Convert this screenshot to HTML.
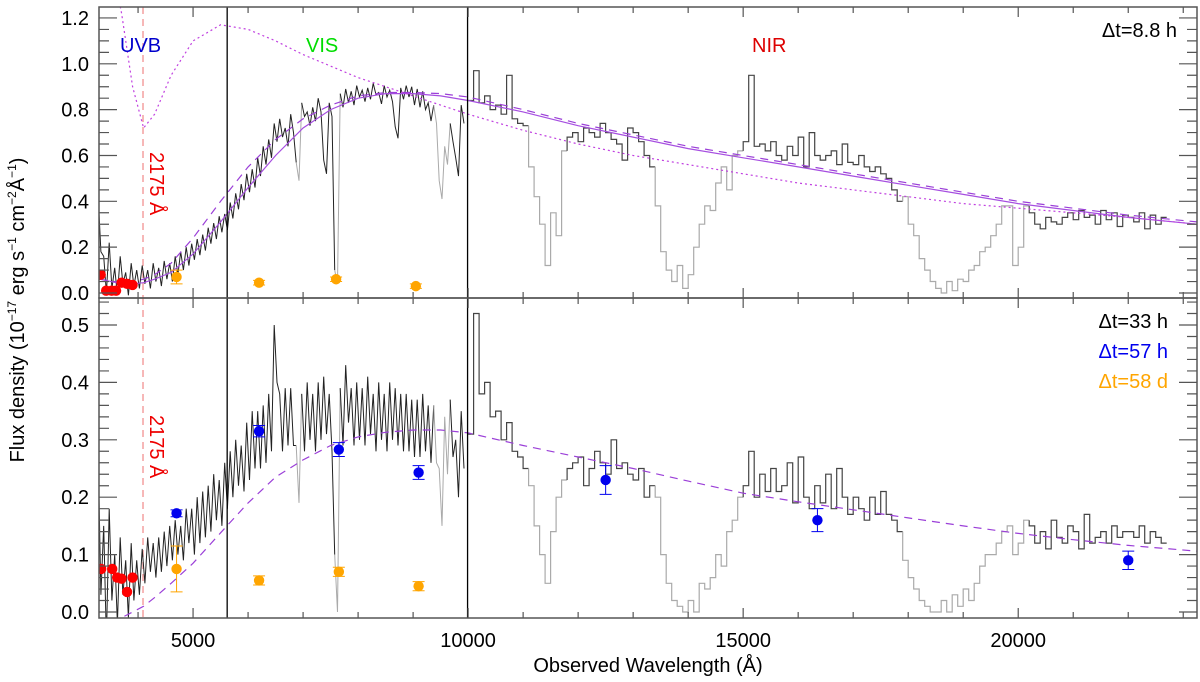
<!DOCTYPE html>
<html><head><meta charset="utf-8"><style>
body{margin:0;background:#fff}
svg{display:block;font-family:"Liberation Sans",sans-serif}
</style></head><body>
<svg id="chart" width="1200" height="682" viewBox="0 0 1200 682" xmlns="http://www.w3.org/2000/svg"></svg>
<script>
// ---- data ----
const visWaveStart = 3300, visStep = 100;
const topVis = [0.3,0.08,0.12,0.05,0.1,0.04,0.08,
0.06,0.08,0.06,0.09,0.07,0.1,0.09,0.12,0.14,0.16,
0.18,0.2,0.22,0.25,0.27,0.3,0.31,0.36,0.4,0.44,
0.48,0.5,0.55,0.6,0.63,0.7,0.72,0.68,0.74,0.53,
0.8,0.76,0.78,0.82,0.55,0.8,0.07,0.84,0.86,0.85,
0.88,0.86,0.87,0.89,0.85,0.88,0.86,0.7,0.87,0.88,
0.86,0.85,0.84,0.79,0.78,0.45,0.6,0.7,0.55,0.78];
const topVisScat = [0.12,0.08,0.1,0.06,0.06,0.05,0.05,
0.04,0.04,0.04,0.04,0.04,0.04,0.04,0.04,0.04,0.04,
0.035,0.035,0.035,0.035,0.035,0.035,0.035,0.035,0.035,0.035,
0.04,0.04,0.04,0.04,0.04,0.04,0.04,0.04,0.04,0.04,
0.03,0.03,0.03,0.03,0.03,0.03,0.03,0.03,0.03,0.03,
0.025,0.025,0.025,0.025,0.025,0.025,0.025,0.025,0.025,0.025,
0.04,0.04,0.04,0.04,0.04,0.04,0.04,0.04,0.04,0.04];
const botVis = [0.15,0.05,0.1,0.04,0.08,0.04,0.07,
0.06,0.08,0.1,0.09,0.1,0.11,0.12,0.13,0.12,0.15,
0.14,0.16,0.17,0.18,0.2,0.19,0.22,0.24,0.26,0.25,
0.28,0.3,0.3,0.31,0.33,0.45,0.33,0.34,0.34,0.24,
0.33,0.35,0.33,0.35,0.36,0.33,0.05,0.34,0.38,0.34,
0.35,0.34,0.36,0.33,0.35,0.33,0.35,0.34,0.33,0.33,
0.32,0.32,0.33,0.31,0.31,0.2,0.29,0.32,0.25,0.3];
const botVisScat = [0.12,0.1,0.08,0.06,0.05,0.05,0.05,
0.03,0.03,0.03,0.03,0.03,0.03,0.03,0.03,0.03,0.03,
0.04,0.04,0.04,0.04,0.04,0.04,0.04,0.04,0.04,0.04,
0.05,0.05,0.05,0.05,0.05,0.05,0.05,0.05,0.05,0.05,
0.05,0.05,0.05,0.05,0.05,0.05,0.05,0.05,0.05,0.05,
0.05,0.05,0.05,0.05,0.05,0.05,0.05,0.05,0.05,0.05,
0.05,0.05,0.05,0.05,0.05,0.05,0.05,0.05,0.05,0.05];
const nirWaveStart = 10000, nirStep = 100;
const topNir = [0.84,0.97,0.83,0.86,0.8,0.82,0.78,0.95,0.76,0.74,
0.73,0.55,0.42,0.3,0.12,0.35,0.25,0.62,0.68,0.7,
0.66,0.72,0.7,0.68,0.74,0.7,0.67,0.65,0.58,0.72,
0.7,0.66,0.6,0.55,0.38,0.18,0.1,0.05,0.12,0.02,
0.08,0.2,0.3,0.38,0.36,0.48,0.55,0.45,0.6,0.62,
0.66,0.95,0.64,0.65,0.62,0.66,0.6,0.58,0.64,0.6,
0.68,0.55,0.7,0.6,0.58,0.6,0.62,0.56,0.65,0.57,
0.56,0.6,0.55,0.53,0.55,0.52,0.5,0.45,0.4,0.42,
0.3,0.25,0.15,0.1,0.05,0.02,0.0,0.05,0.01,0.06,
0.05,0.1,0.12,0.18,0.2,0.25,0.3,0.38,0.38,0.12,
0.2,0.38,0.35,0.3,0.28,0.33,0.31,0.3,0.33,0.35,
0.32,0.36,0.33,0.34,0.3,0.36,0.32,0.35,0.29,0.34,
0.33,0.31,0.35,0.28,0.34,0.3,0.33];
const botNir = [0.31,0.52,0.38,0.4,0.34,0.35,0.3,0.33,0.28,0.27,
0.25,0.22,0.15,0.1,0.05,0.14,0.2,0.23,0.25,0.26,
0.27,0.22,0.25,0.28,0.26,0.24,0.3,0.25,0.26,0.24,
0.23,0.25,0.2,0.22,0.2,0.1,0.05,0.02,0.01,0.0,
0.02,0.0,0.05,0.04,0.06,0.1,0.08,0.14,0.16,0.2,
0.22,0.28,0.2,0.24,0.21,0.25,0.21,0.22,0.26,0.19,
0.27,0.2,0.18,0.22,0.19,0.24,0.18,0.25,0.2,0.17,
0.2,0.18,0.16,0.2,0.17,0.21,0.17,0.16,0.14,0.09,
0.06,0.04,0.02,0.01,0.0,0.0,0.02,0.0,0.03,0.01,
0.04,0.02,0.05,0.08,0.1,0.1,0.12,0.14,0.15,0.1,
0.12,0.16,0.15,0.12,0.14,0.11,0.16,0.13,0.12,0.15,
0.14,0.11,0.17,0.12,0.13,0.14,0.12,0.15,0.13,0.14,
0.14,0.13,0.15,0.12,0.14,0.13,0.12];
const telluric = [[6850,6950],[7550,7700],[9350,9700],[11050,11750],[13350,14950],[17850,20150]];
const modelWave = [3300,3700,3900,4100,4300,4600,5000,5500,6000,6500,7000,7500,8000,8500,9000,9500,10000,11000,12000,13000,14000,15000,16000,17000,18000,19000,20000,21000,22000,23250];
const topSolid = [0.06,0.04,0.04,0.045,0.06,0.09,0.17,0.31,0.46,0.6,0.72,0.8,0.85,0.87,0.87,0.86,0.84,0.79,0.73,0.68,0.63,0.59,0.55,0.51,0.47,0.43,0.39,0.36,0.33,0.3];
const topDashed = [0.06,0.045,0.05,0.06,0.08,0.13,0.24,0.4,0.55,0.67,0.76,0.82,0.86,0.875,0.875,0.87,0.855,0.8,0.74,0.69,0.64,0.6,0.56,0.52,0.48,0.44,0.4,0.37,0.34,0.31];
const topDotted = [1.7,1.22,0.9,0.72,0.78,0.95,1.1,1.17,1.15,1.1,1.04,0.99,0.94,0.9,0.86,0.82,0.78,0.71,0.65,0.6,0.56,0.52,0.48,0.45,0.42,0.39,0.37,0.35,0.33,0.3];
const botDashed = [-0.03,-0.01,0.0,0.01,0.025,0.05,0.085,0.138,0.19,0.235,0.265,0.29,0.305,0.313,0.317,0.317,0.312,0.29,0.27,0.25,0.228,0.207,0.192,0.178,0.164,0.15,0.137,0.126,0.116,0.106];
const topRedW = [3320,3420,3520,3600,3700,3800,3900];
const topRedF = [0.08,0.01,0.01,0.01,0.045,0.04,0.035];
const topOrW = [4700,6200,7600,9050];
const topOrF = [0.07,0.045,0.06,0.03];
const topOrE = [0.03,0.01,0.01,0.01];
const botRedW = [3330,3530,3620,3700,3800,3900];
const botRedF = [0.075,0.075,0.06,0.058,0.035,0.06];
const botBlueW = [4700,6200,7650,9100,12500,16350,22000];
const botBlueF = [0.172,0.315,0.283,0.243,0.23,0.16,0.09];
const botBlueE = [0.006,0.01,0.012,0.012,0.025,0.02,0.016];
const botOrW = [4700,6200,7650,9100];
const botOrF = [0.075,0.055,0.07,0.045];
const botOrE = [0.04,0.008,0.008,0.008];
const xTicks = [5000,10000,15000,20000];
const topYTicks = ["0.0","0.2","0.4","0.6","0.8","1.0","1.2"];
const botYTicks = ["0.0","0.1","0.2","0.3","0.4","0.5"];

// ---- scales ----
const L=99,R=1197;
const W0=3290,W1=23250;
const xs=w=>L+(w-W0)*(R-L)/(W1-W0);
const topP={t:7,b:298,y0:293,k:229.2};
const botP={t:298,b:618,y0:612,k:574};
const ysT=v=>topP.y0-v*topP.k;
const ysB=v=>botP.y0-v*botP.k;
const svg=document.getElementById('chart');
const NS='http://www.w3.org/2000/svg';
function mk(tag,attrs,parent){const e=document.createElementNS(NS,tag);for(const k in attrs)e.setAttribute(k,attrs[k]);(parent||svg).appendChild(e);return e;}
function isTell(w){return telluric.some(r=>w>=r[0]&&w<r[1]);}

function drawPanel(P,ys,name,vis,scat,nir,clipId){
  const g=mk('g',{'clip-path':'url(#'+clipId+')'});
  
  
  let seg=[],segT=null;
  function flush(color,w){if(seg.length>1){const p=mk('polyline',{points:seg.join(' '),fill:'none',stroke:color,'stroke-width':w},g);}}
  for(let i=0;i<vis.length;i++){const w=visWaveStart+i*visStep;const t=isTell(w);
    const pa=xs(w-25).toFixed(1)+','+ys(vis[i]+scat[i]).toFixed(1);
    const pb=xs(w+25).toFixed(1)+','+ys(vis[i]-scat[i]).toFixed(1);
    if(segT!==null&&t!==segT){seg.push(pa);flush(segT?'#aaa':'#222',1);seg=[seg[seg.length-1]];}
    segT=t;seg.push(pa);seg.push(pb);}
  flush(segT?'#aaa':'#222',1);
  seg=[];segT=null;
  for(let i=0;i<nir.length;i++){const w=nirWaveStart+i*nirStep;const t=isTell(w);
    if(segT!==null&&t!==segT){flush(segT?'#aaa':'#444',1.2);seg=[seg[seg.length-1]];}
    segT=t;const x0=xs(w),x1=xs(w+nirStep),y=ys(nir[i]).toFixed(1);
    seg.push(x0.toFixed(1)+','+y);seg.push(x1.toFixed(1)+','+y);}
  flush(segT?'#aaa':'#444',1.2);
  return g;
}
function model(g,vals,ys,dash,name,color){
  const p=mk('polyline',{points:modelWave.map((w,i)=>xs(w).toFixed(1)+','+ys(vals[i]).toFixed(1)).join(' '),fill:'none',stroke:color,'stroke-width':1.2,'stroke-dasharray':dash},g);
  
  
}
function points(g,W,F,E,ys,color,name){
  W.forEach((w,i)=>{
    if(E){const y1=ys(F[i]-E[i]),y2=ys(F[i]+E[i]),x=xs(w);
      const e=mk('path',{d:`M${x},${y1}V${y2}M${x-6},${y1}H${x+6}M${x-6},${y2}H${x+6}`,stroke:color,'stroke-width':1,fill:'none'},g);
      
      }
    const c=mk('circle',{cx:xs(w),cy:ys(F[i]),r:5.2,fill:color},g);
    
    
  });
}
const defs=mk('defs',{});
const c1=mk('clipPath',{id:'clipT'},defs);mk('rect',{x:L,y:topP.t,width:R-L,height:topP.b-topP.t},c1);
const c2=mk('clipPath',{id:'clipB'},defs);mk('rect',{x:L,y:botP.t,width:R-L,height:botP.b-botP.t},c2);

[[topP,'clipT'],[botP,'clipB']].forEach(([P,c])=>{const l=mk('line',{x1:xs(4090),x2:xs(4090),y1:P.t,y2:P.b,stroke:'#f4a0a0','stroke-width':1.5,'stroke-dasharray':'7,5','clip-path':'url(#'+c+')'});});

const gT=drawPanel(topP,ysT,'top',topVis,topVisScat,topNir,'clipT');
model(gT,topSolid,ysT,'none','top-model-solid','#a64ee0');
model(gT,topDashed,ysT,'8,6','top-model-dashed','#9b3fd8');
model(gT,topDotted,ysT,'2,3','top-model-dotted','#c040e0');
points(gT,topRedW,topRedF,null,ysT,'#f00','top-red-point');
points(gT,topOrW,topOrF,topOrE,ysT,'#ffa500','top-orange-point');
const gB=drawPanel(botP,ysB,'bottom',botVis,botVisScat,botNir,'clipB');
model(gB,botDashed,ysB,'8,6','bottom-model-dashed','#9b3fd8');
points(gB,botRedW,botRedF,null,ysB,'#f00','bottom-red-point');
points(gB,botOrW,botOrF,botOrE,ysB,'#ffa500','bottom-orange-point');
points(gB,botBlueW,botBlueF,botBlueE,ysB,'#0000ee','bottom-blue-point');

[5620,9990].forEach(w=>{const l=mk('line',{x1:xs(w),x2:xs(w),y1:topP.t,y2:botP.b,stroke:'#000','stroke-width':1.3});});

function frame(P,ys,labels,step,minor,name){
  const f=mk('rect',{x:L,y:P.t,width:R-L,height:P.b-P.t,fill:'none',stroke:'#555','stroke-width':1.5});
  
  let d='';
  for(let w=4000;w<=23000;w+=1000){const x=xs(w),len=(w%5000===0)?10:6;d+=`M${x},${P.b}v${-len}M${x},${P.t}v${len}`;}
  for(let v=0;v<=(P.y0-P.t)/P.k+1e-6;v+=minor){const y=ys(v);const maj=Math.abs(Math.round(v/step)*step-v)<1e-6;const len=maj?18:10;d+=`M${L},${y}h${len}M${R},${y}h${-len}`;}
  const t=mk('path',{d:d,stroke:'#555','stroke-width':1.2,fill:'none'});
  
  labels.forEach((lab,i)=>{const tx=mk('text',{x:89,y:ys(i*step)+7,'text-anchor':'end','font-size':20,fill:'#000'});tx.textContent=lab;});
}
frame(topP,ysT,topYTicks,0.2,0.05,'top');
frame(botP,ysB,botYTicks,0.1,0.02,'bottom');
xTicks.forEach(w=>{const t=mk('text',{x:xs(w),y:647,'text-anchor':'middle','font-size':20});t.textContent=w;});

function txt(s,x,y,attrs,name){const t=mk('text',Object.assign({x:x,y:y,'font-size':20},attrs));t.textContent=s;return t;}
txt('Observed Wavelength (Å)',648,672,{'text-anchor':'middle'},'x-axis-title');
const yt=txt('',0,0,{'text-anchor':'middle',transform:'translate(24,310) rotate(-90)'},'y-axis-title');
yt.innerHTML='Flux density (10<tspan dy="-8" font-size="12">−17</tspan><tspan dy="8"> erg s</tspan><tspan dy="-8" font-size="12">−1</tspan><tspan dy="8"> cm</tspan><tspan dy="-8" font-size="12">−2</tspan><tspan dy="8">Å</tspan><tspan dy="-8" font-size="12">−1</tspan><tspan dy="8">)</tspan>';
txt('UVB',120,52,{fill:'#0000cc'},'uvb-label');
txt('VIS',306,52,{fill:'#00dd00'},'vis-label');
txt('NIR',752,52,{fill:'#dd0000'},'nir-label');
txt('Δt=8.8 h',1177,37,{'text-anchor':'end'},'top-epoch-label');
txt('Δt=33 h',1168,328,{'text-anchor':'end'},'epoch-33h-label');
txt('Δt=57 h',1168,358,{'text-anchor':'end',fill:'#0000ee'},'epoch-57h-label');
txt('Δt=58 d',1168,388,{'text-anchor':'end',fill:'#ffa500'},'epoch-58d-label');
txt('2175 Å',150,152,{fill:'#ee0000',transform:'rotate(90 150 152)'},'top-2175-label');
txt('2175 Å',150,415,{fill:'#ee0000',transform:'rotate(90 150 415)'},'bottom-2175-label');
</script>
</body></html>
